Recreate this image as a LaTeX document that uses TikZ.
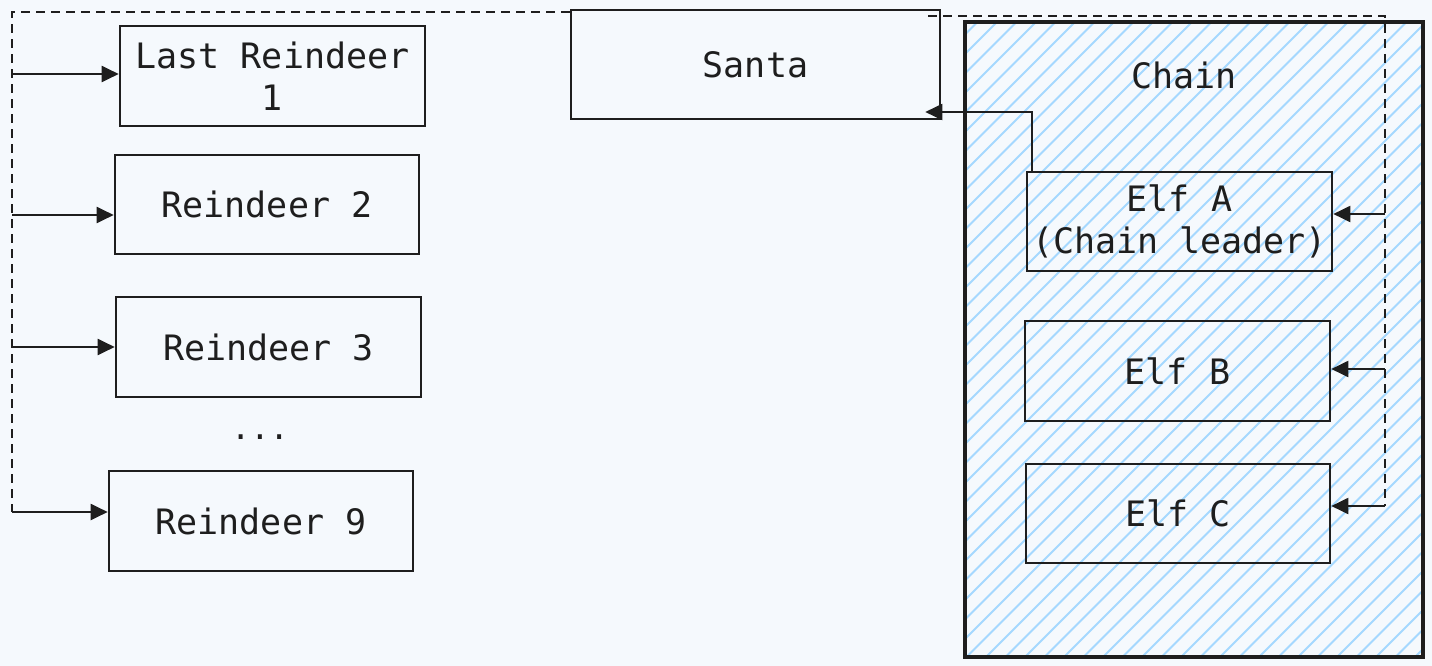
\documentclass[tikz,border=0pt]{standalone}
\usepackage{fontspec}
\setmonofont{DejaVu Sans Mono}
\usetikzlibrary{arrows.meta,calc}
\definecolor{bg}{RGB}{245,249,253}
\definecolor{ink}{RGB}{30,30,30}
\definecolor{hatchc}{RGB}{165,216,255}
\begin{document}
\begin{tikzpicture}[x=1pt,y=-1pt,
  font=\ttfamily\fontsize{35}{42}\selectfont,
  box/.style={draw=ink, line width=2.6pt, inner sep=0pt, align=center, text=ink,
    minimum width=305pt, minimum height=100pt},
  arr/.style={draw=ink, line width=2pt, -{Triangle[length=17pt,width=16pt]}},
  dashline/.style={draw=ink, line width=2.2pt, dash pattern=on 9pt off 6pt},
  lbl/.style={text=ink, inner sep=0pt}]
\useasboundingbox (0,0) rectangle (1432,666);
\fill[bg] (0,0) rectangle (1432,666);
% Chain container with hatch
\begin{scope}
  \clip (965,22) rectangle (1423,657);
  \foreach \c in {980,999.5,...,2090}
    \draw[hatchc, line width=2pt] (\c-660,660) -- (\c-20,20);
\end{scope}
\node[draw=ink, line width=4.8pt, minimum width=458pt, minimum height=635pt, inner sep=0pt] (chain) at (1194,339.5) {};
\node[lbl] (chainlbl) at (1184,75) {Chain};
% Reindeer
\node[box] (r1) at (272.5,76) {Last Reindeer\\1};
\node[box, minimum width=304pt, minimum height=99pt] (r2) at (267,204.5) {Reindeer 2};
\node[box] (r3) at (268.5,347) {Reindeer 3};
\node[lbl, font=\ttfamily\fontsize{32}{34}\selectfont] (dots) at (260,437) {...};
\node[box, minimum width=304pt] (r9) at (261,521) {Reindeer 9};
% Santa
\node[box, minimum width=369pt, minimum height=109pt] (santa) at (755.5,64.5) {Santa};
% Elves
\node[box, minimum height=99pt] (ea) at (1179.5,221.5) {Elf A\\(Chain leader)};
\node[box] (eb) at (1177.5,371) {Elf B};
\node[box, minimum width=304pt, minimum height=99pt] (ec) at (1178,513.5) {Elf C};
% dashed wake-up lines
\coordinate (dl0) at (12,12);
\coordinate (dl1) at (12,74);
\coordinate (dl2) at (12,215);
\coordinate (dl3) at (12,347);
\coordinate (dl9) at (12,512);
\coordinate (dr0) at (928,16);
\coordinate (dr1) at (1385,16);
\coordinate (dra) at (1385,214);
\coordinate (drb) at (1385,369);
\coordinate (drc) at (1385,506);
\draw[dashline] (santa.north west |- dl0) -- (dl0) -- (dl9);
\draw[dashline] (dr0) -- (dr1) -- (drc);
% arrows to reindeer
\draw[arr] (dl1) -- (dl1 -| r1.west);
\draw[arr] (dl2) -- (dl2 -| r2.west);
\draw[arr] (dl3) -- (dl3 -| r3.west);
\draw[arr] (dl9) -- (dl9 -| r9.west);
% arrows to elves
\draw[arr] (dra) -- (dra -| ea.east);
\draw[arr] (drb) -- (drb -| eb.east);
\draw[arr] (drc) -- (drc -| ec.east);
% leader to Santa
\coordinate (bend) at (1032,112);
\draw[arr] (bend |- ea.north) -- (bend) -- ([xshift=-16pt]bend -| santa.east);
\end{tikzpicture}
\end{document}
